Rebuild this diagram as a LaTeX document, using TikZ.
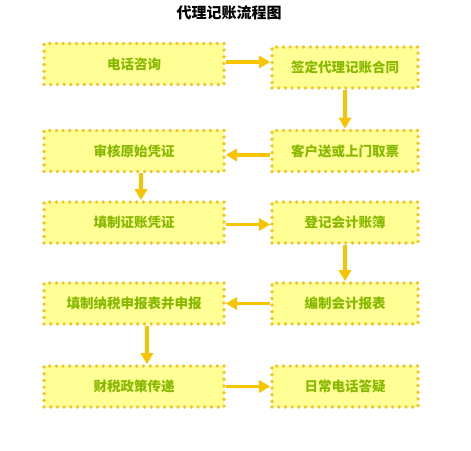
\documentclass[tikz,border=0pt]{standalone}
\usepackage{fontspec}
\setmainfont{Noto Sans CJK SC}
\usetikzlibrary{arrows.meta}
\definecolor{boxfill}{RGB}{255,255,150}
\definecolor{dotcol}{RGB}{247,196,25}
\definecolor{txtgreen}{RGB}{135,185,0}
\definecolor{arrcol}{RGB}{247,196,0}
\tikzset{
  flowbox/.style={draw=dotcol, fill=boxfill, line width=3.7bp, dash pattern=on 0bp off 6.7bp, line cap=round,
    minimum height=41bp, inner sep=0pt, font=\fontsize{13.5bp}{16bp}\selectfont\bfseries, text=txtgreen},
  lbox/.style={flowbox, minimum width=180bp},
  rbox/.style={flowbox, minimum width=146bp},
  flowarrow/.style={draw=arrcol, line width=3.8bp, -{Triangle[length=11bp,width=12bp]}}
}
\begin{document}
\begin{tikzpicture}[x=1bp,y=-1bp]
\useasboundingbox (0,0) rectangle (471,451);
\node[font=\fontsize{15bp}{18bp}\selectfont\bfseries] (title) at (229,13) {代理记账流程图};
\node[lbox] (a1) at (134,64) {电话咨询};
\node[rbox] (b1) at (345,67.5) {签定代理记账合同};
\node[lbox] (a2) at (134,151) {审核原始凭证};
\node[rbox] (b2) at (345,151) {客户送或上门取票};
\node[lbox] (a3) at (134,222.5) {填制证账凭证};
\node[rbox] (b3) at (345,222.5) {登记会计账簿};
\node[lbox] (a4) at (134,303.5) {填制纳税申报表并申报};
\node[rbox] (b4) at (345,303.5) {编制会计报表};
\node[lbox] (a5) at (134,386.5) {财税政策传递};
\node[rbox] (b5) at (345,386.5) {日常电话答疑};
\draw[flowarrow] ([yshift=2bp]a1.east) -- ([yshift=2bp]a1.east -| b1.west);
\draw[flowarrow] (b1.south) -- (b2.north);
\draw[flowarrow] ([yshift=-4bp]b2.west) -- ([yshift=-4bp]b2.west -| a2.east);
\draw[flowarrow] ([xshift=7bp]a2.south) -- ([xshift=7bp]a3.north);
\draw[flowarrow] ([yshift=-2bp]a3.east) -- ([yshift=-2bp]a3.east -| b3.west);
\draw[flowarrow] (b3.south) -- (b4.north);
\draw[flowarrow] (b4.west) -- (b4.west -| a4.east);
\draw[flowarrow] ([xshift=13bp]a4.south) -- ([xshift=13bp]a5.north);
\draw[flowarrow] (a5.east) -- (b5.west);
\end{tikzpicture}
\end{document}
